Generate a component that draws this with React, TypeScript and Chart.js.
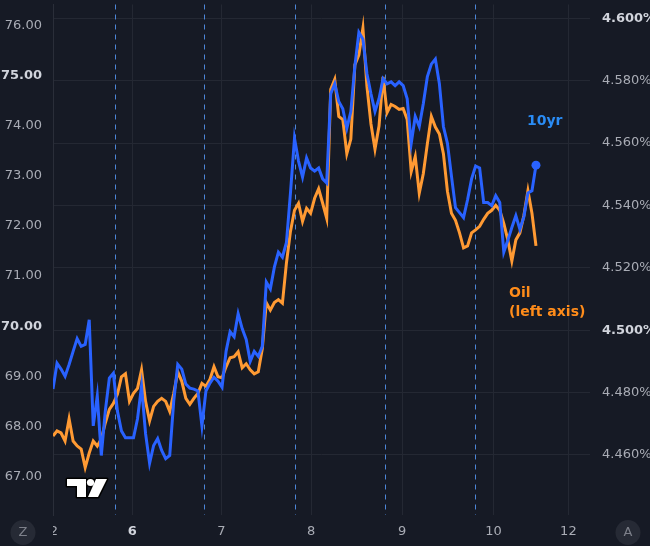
import { useEffect, useRef } from 'react';
import { Chart, registerables } from 'chart.js';

Chart.register(...registerables);

// ---- data (one sample per bar, bars evenly spaced) ----
const oilValues = [
  67.81, 67.91, 67.87, 67.71, 68.15, 67.71, 67.61, 67.55, 67.18, 67.47,
  67.71, 67.61, 67.75, 68.07, 68.34, 68.46, 68.64, 68.99, 69.05, 68.5,
  68.66, 68.76, 69.13, 68.5, 68.11, 68.4, 68.5, 68.56, 68.5, 68.3,
  68.66, 69.09, 68.9, 68.56, 68.44, 68.56, 68.66, 68.86, 68.8, 68.94,
  69.19, 68.99, 68.97, 69.19, 69.37, 69.39, 69.49, 69.17, 69.25, 69.13,
  69.05, 69.09, 69.55, 70.47, 70.32, 70.47, 70.53, 70.46, 71.26, 71.89,
  72.31, 72.45, 72.09, 72.35, 72.25, 72.55, 72.74, 72.45, 72.15, 74.72,
  74.92, 74.18, 74.12, 73.44, 73.73, 75.21, 75.41, 75.94, 74.78, 74.03,
  73.53, 73.99, 74.97, 74.26, 74.42, 74.38, 74.32, 74.34, 74.12, 73.08,
  73.38, 72.65, 73.04, 73.63, 74.18, 73.97, 73.83, 73.44, 72.69, 72.25,
  72.11, 71.86, 71.56, 71.6, 71.86, 71.92, 71.99, 72.13, 72.25, 72.31,
  72.41, 72.31, 72.05, 71.72, 71.3, 71.72, 71.86, 72.21, 72.7, 72.25,
  71.6,
];

const yieldValues = [
  4.4811, 4.4894, 4.4875, 4.4852, 4.489, 4.4932, 4.4973, 4.4948, 4.4954, 4.5033,
  4.4693, 4.4789, 4.4598, 4.4741, 4.4846, 4.4862, 4.4741, 4.4677, 4.4655, 4.4655,
  4.4655, 4.4716, 4.482, 4.4668, 4.4573, 4.463, 4.4652, 4.4614, 4.4588, 4.4598,
  4.4773, 4.489, 4.4875, 4.4827, 4.4814, 4.4811, 4.4805, 4.4693, 4.4805, 4.483,
  4.4849, 4.4836, 4.4817, 4.4932, 4.4995, 4.4979, 4.5053, 4.5005, 4.497, 4.49,
  4.4932, 4.4916, 4.4948, 4.5154, 4.5132, 4.5202, 4.525, 4.5234, 4.5281, 4.544,
  4.5615, 4.5542, 4.5491, 4.5552, 4.552, 4.551, 4.552, 4.5485, 4.5472, 4.5758,
  4.579, 4.5733, 4.571, 4.5647, 4.5701, 4.5847, 4.5955, 4.5933, 4.5822, 4.5758,
  4.5701, 4.5742, 4.5806, 4.579, 4.5796, 4.5784, 4.5796, 4.5784, 4.5742, 4.5599,
  4.5685, 4.5653, 4.5726, 4.5812, 4.5853, 4.5869, 4.579, 4.5653, 4.5599, 4.5494,
  4.5393, 4.5377, 4.5361, 4.5418, 4.5485, 4.5526, 4.552, 4.5409, 4.5409, 4.5399,
  4.5431, 4.5409, 4.525, 4.5288, 4.5329, 4.5367, 4.5323, 4.5364, 4.544, 4.5447,
  4.5529,
];

const oilTicks = [67, 68, 69, 70, 71, 72, 73, 74, 75, 76];
const yieldTicks = [4.46, 4.48, 4.5, 4.52, 4.54, 4.56, 4.58, 4.6];
const dayTickPositions = [0.22, 19.7, 41.84, 64.15, 86.76, 109.42, 128.05];
const dayTickLabels = ['2', '6', '7', '8', '9', '10', '12'];
const sessionBreaks = [15.48, 37.61, 60.17, 82.43, 104.97];
const boldOilTicks = [75, 70];
const boldYieldTicks = [4.6, 4.5];
const boldDayLabels = ['6'];

const oilRange = [66.235, 76.413];
const yieldRange = [4.44072, 4.60442];
const barRange = [0, 133.42];

// ---- styles ----
const BG = '#161a25';
const GRID = '#242833';
const BLUE = '#2962ff';
const ORANGE = '#ff9a33';
const TEXT = '#a9acb5';
const TEXT_BOLD = '#d1d4dc';
const FONT = '"DejaVu Sans", sans-serif';

const decorPlugin = {
  id: 'tvDecor',
  beforeDraw(chart: any) {
    const { ctx, width, height } = chart;
    ctx.save();
    ctx.fillStyle = BG;
    ctx.fillRect(0, 0, width, height);
    ctx.restore();
  },
  beforeDatasetsDraw(chart: any) {
    const { ctx, chartArea, scales } = chart;
    ctx.save();
    ctx.strokeStyle = 'rgba(80,140,225,0.95)';
    ctx.lineWidth = 1;
    ctx.setLineDash([5, 5]);
    sessionBreaks.forEach((v) => {
      const x = Math.round(scales.x.getPixelForValue(v)) + 0.5;
      ctx.beginPath();
      ctx.moveTo(x, chartArea.top);
      ctx.lineTo(x, chartArea.bottom);
      ctx.stroke();
    });
    ctx.restore();
  },
  afterDraw(chart: any) {
    const { ctx, chartArea, height } = chart;
    ctx.save();
    // bottom corners (axis buttons)
    ctx.fillStyle = BG;
    ctx.fillRect(0, chartArea.bottom + 1, chartArea.left, height - chartArea.bottom);
    const btn = (cx: number, letter: string) => {
      ctx.beginPath();
      ctx.arc(cx, 532.5, 12.5, 0, Math.PI * 2);
      ctx.fillStyle = '#262a35';
      ctx.fill();
      ctx.fillStyle = '#7d808a';
      ctx.font = `13px ${FONT}`;
      ctx.textAlign = 'center';
      ctx.textBaseline = 'middle';
      ctx.fillText(letter, cx, 533);
    };
    btn(23, 'Z');
    btn(628, 'A');

    // logo
    ctx.lineJoin = 'round';
    ctx.lineWidth = 3;
    ctx.strokeStyle = '#000000';
    ctx.fillStyle = '#ffffff';
    const tShape = new Path2D();
    tShape.moveTo(67, 479);
    tShape.lineTo(86, 479);
    tShape.lineTo(86, 497);
    tShape.lineTo(77, 497);
    tShape.lineTo(77, 486);
    tShape.lineTo(67, 486);
    tShape.closePath();
    const dot = new Path2D();
    dot.arc(90.5, 482.5, 3.6, 0, Math.PI * 2);
    const slash = new Path2D();
    slash.moveTo(96, 479);
    slash.lineTo(107, 479);
    slash.lineTo(98, 497);
    slash.lineTo(88, 497);
    slash.closePath();
    [tShape, dot, slash].forEach((p) => {
      ctx.stroke(p);
    });
    [tShape, dot, slash].forEach((p) => {
      ctx.fill(p);
    });

    // annotations
    ctx.textAlign = 'left';
    ctx.textBaseline = 'middle';
    ctx.font = `bold 14px ${FONT}`;
    ctx.fillStyle = '#2a8cf5';
    ctx.fillText('10yr', 527, 121);
    ctx.fillStyle = '#ff8c1a';
    ctx.fillText('Oil', 509, 293);
    ctx.fillText('(left axis)', 509, 312);
    ctx.restore();
  },
};

export default function App() {
  const canvasRef = useRef<HTMLCanvasElement | null>(null);

  useEffect(() => {
    if (!canvasRef.current) return;
    document.body.style.margin = '0';
    document.body.style.background = BG;
    const lastIdx = yieldValues.length - 1;
    const chart = new Chart(canvasRef.current, {
      type: 'line',
      data: {
        datasets: [
          {
            label: '10yr',
            data: yieldValues.map((v, i) => ({ x: i, y: v })),
            yAxisID: 'yRight',
            xAxisID: 'x',
            borderColor: BLUE,
            backgroundColor: BLUE,
            borderWidth: 3,
            tension: 0,
            pointRadius: (c: any) => (c.dataIndex === lastIdx ? 4.5 : 0),
            pointBorderWidth: 0,
            pointBackgroundColor: BLUE,
            pointHoverRadius: 0,
          },
          {
            label: 'Oil',
            data: oilValues.map((v, i) => ({ x: i, y: v })),
            yAxisID: 'yLeft',
            xAxisID: 'x',
            borderColor: ORANGE,
            backgroundColor: ORANGE,
            borderWidth: 3,
            tension: 0,
            pointRadius: 0,
            pointHoverRadius: 0,
          },
        ],
      },
      options: {
        responsive: false,
        animation: false,
        devicePixelRatio: 1,
        events: [],
        layout: { padding: 0 },
        plugins: {
          legend: { display: false },
          tooltip: { enabled: false },
        },
        scales: {
          x: {
            type: 'linear',
            position: 'bottom',
            min: barRange[0],
            max: barRange[1],
            afterBuildTicks: (s: any) => {
              s.ticks = dayTickPositions.map((v) => ({ value: v }));
            },
            afterFit: (s: any) => {
              s.height = 31;
              s.paddingLeft = 0;
              s.paddingRight = 0;
            },
            ticks: {
              autoSkip: false,
              maxRotation: 0,
              minRotation: 0,
              padding: 9,
              callback: (_v: any, i: number) => dayTickLabels[i],
              font: (c: any) => ({
                family: FONT,
                size: 13,
                weight: boldDayLabels.includes(dayTickLabels[c.index]) ? 'bold' : 'normal',
              }),
              color: (c: any) => (boldDayLabels.includes(dayTickLabels[c.index]) ? TEXT_BOLD : TEXT),
            },
            grid: { color: GRID, drawTicks: false, lineWidth: 1 },
            border: { display: false },
          },
          yLeft: {
            type: 'linear',
            position: 'left',
            min: oilRange[0],
            max: oilRange[1],
            afterBuildTicks: (s: any) => {
              s.ticks = oilTicks.map((v) => ({ value: v }));
            },
            afterFit: (s: any) => {
              s.width = 53;
              s.paddingTop = 0;
              s.paddingBottom = 0;
            },
            ticks: {
              padding: 11,
              callback: (v: any) => Number(v).toFixed(2),
              font: (c: any) => ({
                family: FONT,
                size: 13,
                weight: boldOilTicks.includes(c.tick?.value) ? 'bold' : 'normal',
              }),
              color: (c: any) => (boldOilTicks.includes(c.tick?.value) ? TEXT_BOLD : TEXT),
            },
            grid: { display: false, drawTicks: false },
            border: { display: true, color: '#2a2e39', width: 1 },
          },
          yRight: {
            type: 'linear',
            position: 'right',
            min: yieldRange[0],
            max: yieldRange[1],
            afterBuildTicks: (s: any) => {
              s.ticks = yieldTicks.map((v) => ({ value: v }));
            },
            afterFit: (s: any) => {
              s.width = 60;
              s.paddingTop = 0;
              s.paddingBottom = 0;
            },
            ticks: {
              padding: 12,
              callback: (v: any) => Number(v).toFixed(3) + '%',
              font: (c: any) => ({
                family: FONT,
                size: 13,
                weight: boldYieldTicks.some((b) => Math.abs(b - (c.tick?.value ?? -1)) < 1e-6) ? 'bold' : 'normal',
              }),
              color: (c: any) =>
                boldYieldTicks.some((b) => Math.abs(b - (c.tick?.value ?? -1)) < 1e-6) ? TEXT_BOLD : TEXT,
            },
            grid: { color: GRID, drawTicks: false, lineWidth: 1 },
            border: { display: false },
          },
        },
      },
      plugins: [decorPlugin],
    } as any);
    return () => chart.destroy();
  }, []);

  return (
    <div style={{ position: 'fixed', left: 0, top: 0, width: 650, height: 546, background: BG }}>
      <canvas ref={canvasRef} width={650} height={546} style={{ display: 'block', width: 650, height: 546 }} />
    </div>
  );
}
